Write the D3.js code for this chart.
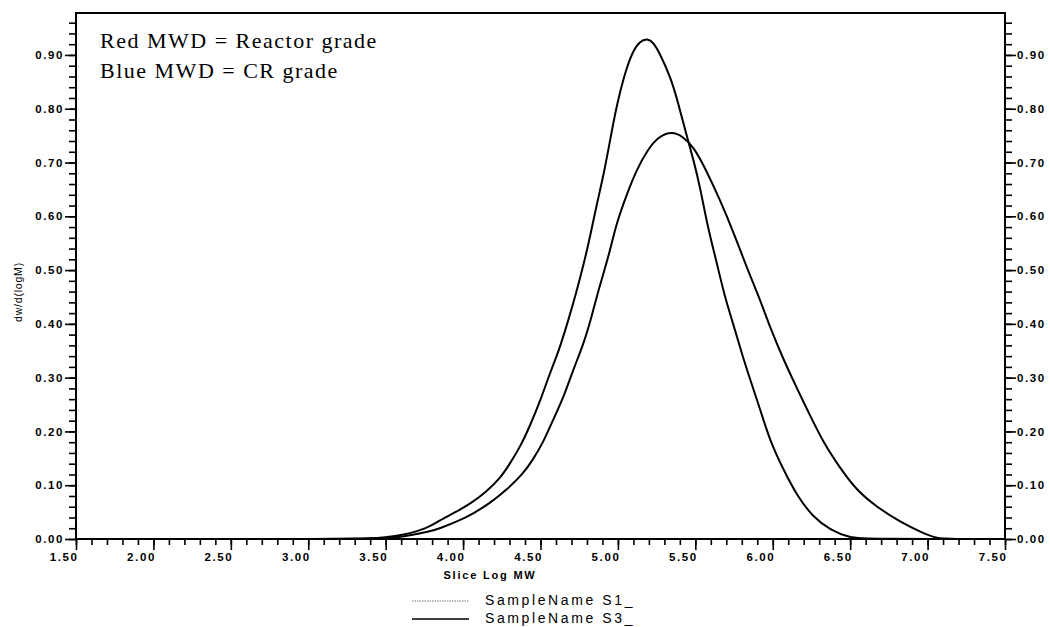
<!DOCTYPE html>
<html>
<head>
<meta charset="utf-8">
<script src="https://cdn.jsdelivr.net/npm/d3@7"></script>
<style>
  body { margin: 0; background: #fff; }
  .tick text { font-family: "Liberation Sans", Arial, sans-serif; font-size: 11.5px; font-weight: bold; letter-spacing: 1.6px; fill: #000; }
</style>
</head>
<body>
<script>
// sample S1 (narrow, tall peak)
var logMwS1 = [1.50, 3.30, 3.40, 3.49, 3.61, 3.77, 3.85, 3.94, 4.05, 4.15, 4.24, 4.30, 4.37, 4.43, 4.50, 4.56, 4.62,
               4.68, 4.73, 4.78, 4.82, 4.86, 4.91, 4.95, 4.99, 5.05, 5.10, 5.14, 5.19, 5.23, 5.27, 5.34,
               5.39, 5.44, 5.49, 5.53, 5.58, 5.64, 5.69, 5.75, 5.80, 5.85, 5.92, 5.98, 6.07, 6.16, 6.26,
               6.37, 6.50, 6.60, 7.50];
var dwS1 = [0.000, 0.000, 0.001, 0.003, 0.007, 0.020, 0.035, 0.048, 0.066, 0.088, 0.113, 0.139, 0.172, 0.209, 0.258, 0.308, 0.351,
            0.407, 0.457, 0.512, 0.562, 0.618, 0.680, 0.742, 0.804, 0.872, 0.909, 0.925, 0.931, 0.923, 0.903, 0.859,
            0.810, 0.754, 0.703, 0.655, 0.580, 0.512, 0.450, 0.395, 0.345, 0.300, 0.240, 0.184, 0.128, 0.079, 0.041,
            0.017, 0.002, 0.000, 0.000];

// sample S3 (broad peak)
var logMwS3 = [1.50, 3.35, 3.49, 3.61, 3.79, 3.85, 3.96, 4.07, 4.17, 4.28, 4.39, 4.45, 4.52, 4.58, 4.65, 4.71,
               4.78, 4.83, 4.88, 4.94, 4.99, 5.06, 5.12, 5.19, 5.26, 5.35, 5.42, 5.49, 5.57, 5.66, 5.75,
               5.83, 5.92, 5.98, 6.07, 6.16, 6.24, 6.33, 6.43, 6.54, 6.67, 6.82, 6.97, 7.06, 7.15, 7.50];
var dwS3 = [0.000, 0.000, 0.001, 0.004, 0.014, 0.020, 0.032, 0.048, 0.066, 0.091, 0.122, 0.147, 0.181, 0.221, 0.264, 0.314,
            0.364, 0.413, 0.469, 0.525, 0.587, 0.643, 0.686, 0.723, 0.748, 0.758, 0.748, 0.729, 0.686, 0.630, 0.568,
            0.506, 0.444, 0.395, 0.333, 0.278, 0.230, 0.178, 0.134, 0.091, 0.060, 0.032, 0.011, 0.001, 0.000, 0.000];

var xMajor = [1.5, 2.0, 2.5, 3.0, 3.5, 4.0, 4.5, 5.0, 5.5, 6.0, 6.5, 7.0, 7.5];
var yMajor = [0.0, 0.1, 0.2, 0.3, 0.4, 0.5, 0.6, 0.7, 0.8, 0.9];
var noteLines = ["Red MWD = Reactor grade", "Blue MWD = CR grade"];
var legendNames = ["SampleName S1_", "SampleName S3_"];

(function() {
    var width = 1050, height = 627,
        padLeft = 76, padRight = 1005, padTop = 13, padBottom = 539;

    var x = d3.scaleLinear().domain([1.5, 7.5]).range([padLeft, padRight]);
    var y = d3.scaleLinear().domain([0, 0.978]).range([padBottom, padTop]);

    var xMinor = d3.range(15, 76).map(function(d) { return d / 10; });
    var yMinor = d3.range(0, 49).map(function(d) { return d / 50; });

    var svg = d3.select("body").append("svg")
        .attr("width", width)
        .attr("height", height);

    var fmt = d3.format(".2f");

    // minor ticks
    svg.append("g")
        .attr("transform", "translate(0," + padBottom + ")")
        .call(d3.axisBottom(x).tickValues(xMinor).tickSize(6).tickFormat(""));
    svg.append("g")
        .attr("transform", "translate(" + padLeft + ",0)")
        .call(d3.axisLeft(y).tickValues(yMinor).tickSize(7).tickFormat(""));
    svg.append("g")
        .attr("transform", "translate(" + padRight + ",0)")
        .call(d3.axisRight(y).tickValues(yMinor).tickSize(7).tickFormat(""));

    // major ticks
    var xAxis = svg.append("g")
        .attr("transform", "translate(0," + padBottom + ")")
        .call(d3.axisBottom(x).tickValues(xMajor).tickSize(11).tickPadding(3).tickFormat(fmt));
    xAxis.selectAll(".tick text").attr("text-anchor", "end").attr("dx", "2px");

    svg.append("g")
        .attr("transform", "translate(" + padLeft + ",0)")
        .call(d3.axisLeft(y).tickValues(yMajor).tickSize(11).tickPadding(1).tickFormat(fmt));

    svg.append("g")
        .attr("transform", "translate(" + padRight + ",0)")
        .call(d3.axisRight(y).tickValues(yMajor).tickSize(11).tickPadding(1).tickFormat(fmt));

    svg.selectAll(".tick line").attr("stroke", "#000").attr("stroke-width", 1.6);
    svg.selectAll(".domain").remove();

    // frame
    svg.append("rect")
        .attr("x", padLeft).attr("y", padTop)
        .attr("width", padRight - padLeft).attr("height", padBottom - padTop)
        .attr("fill", "none").attr("stroke", "#000").attr("stroke-width", 2);

    // curves
    var line = d3.line()
        .x(function(d) { return x(d[0]); })
        .y(function(d) { return y(d[1]); })
        .curve(d3.curveBasis);

    [[logMwS1, dwS1], [logMwS3, dwS3]].forEach(function(s) {
        svg.append("path")
            .datum(d3.zip(s[0], s[1]))
            .attr("d", line)
            .attr("fill", "none")
            .attr("stroke", "#000")
            .attr("stroke-width", 2);
    });

    // notes
    svg.selectAll(".note")
        .data(noteLines)
        .enter().append("text")
        .attr("class", "note")
        .attr("x", 100)
        .attr("y", function(d, i) { return 48 + i * 30; })
        .style("font-family", "'Liberation Serif', 'Times New Roman', serif")
        .style("font-size", "22px")
        .style("letter-spacing", "1.5px")
        .text(function(d) { return d; });

    // axis titles
    svg.append("text")
        .attr("x", 490).attr("y", 579)
        .attr("text-anchor", "middle")
        .style("font-family", "'Liberation Sans', Arial, sans-serif")
        .style("font-size", "11px")
        .style("font-weight", "bold")
        .style("letter-spacing", "1.8px")
        .text("Slice Log MW");

    svg.append("text")
        .attr("transform", "translate(22,292) rotate(-90)")
        .attr("text-anchor", "middle")
        .style("font-family", "'Liberation Sans', Arial, sans-serif")
        .style("font-size", "10.5px")
        .style("letter-spacing", "0.8px")
        .text("dw/d(logM)");

    // legend
    var legend = svg.selectAll(".legend")
        .data(legendNames)
        .enter().append("g")
        .attr("class", "legend")
        .attr("transform", function(d, i) { return "translate(0," + (601 + i * 18) + ")"; });

    legend.append("line")
        .attr("x1", 412).attr("x2", 469)
        .attr("stroke", function(d, i) { return i === 0 ? "#777" : "#000"; })
        .attr("stroke-width", function(d, i) { return i === 0 ? 1 : 1.6; })
        .attr("stroke-dasharray", function(d, i) { return i === 0 ? "1.5,1" : null; });

    legend.append("text")
        .attr("x", 485).attr("y", 4)
        .style("font-family", "'Liberation Sans', Arial, sans-serif")
        .style("font-size", "14px")
        .style("letter-spacing", "2.6px")
        .text(function(d) { return d; });
})();
</script>
</body>
</html>
